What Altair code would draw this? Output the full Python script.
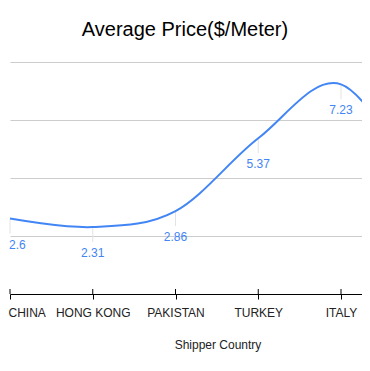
import altair as alt
import pandas as pd

# Data (the last category is cut off at the right edge of the reference)
countries = ["CHINA", "HONG KONG", "PAKISTAN", "TURKEY", "ITALY", "…"]
prices = [2.6, 2.31, 2.86, 5.37, 7.23, 3.5]
price_labels = ["2.6", "2.31", "2.86", "5.37", "7.23", "3.5"]
y_ticks = [0, 2, 4, 6, 8]

df = pd.DataFrame({"country": countries, "price": prices, "label": price_labels})

FONT = "Arial, Liberation Sans"
BLUE = "#4285F4"

x_enc = alt.X(
    "country:N",
    sort=countries,
    scale=alt.Scale(type="point", domain=countries, range=[2, 2 + 5 * 82.75], padding=0),
    axis=alt.Axis(
        values=countries[:5],
        title="Shipper Country",
        labelFont=FONT,
        labelFontSize=12,
        labelColor="#222222",
        labelAngle=0,
        labelPadding=8,
        labelFlush=True,
        labelFlushOffset=2,
        tickColor="#000000",
        tickSize=5,
        domainColor="#000000",
        grid=False,
        titleFont=FONT,
        titleFontSize=12,
        titleFontWeight="normal",
        titleColor="#222222",
        titleX=209.5,
        titleY=50,
        titleBaseline="middle",
        titleAlign="center",
    ),
)
y_enc = alt.Y(
    "price:Q",
    scale=alt.Scale(domain=[0, 8], nice=False),
    axis=alt.Axis(values=y_ticks, labels=False, ticks=False, domain=False,
                  grid=True, gridColor="#cccccc", title=None),
)

base = alt.Chart(df)
visible = base.transform_filter(alt.datum.country != countries[-1])

stems = visible.mark_rule(color="#e3e3e3", strokeWidth=1, yOffset=1, y2Offset=15, clip=True).encode(
    x=x_enc, y=y_enc, y2="price:Q"
)
line = base.mark_line(interpolate="cardinal", color=BLUE, strokeWidth=2, clip=True).encode(
    x=x_enc, y=y_enc
)
first_text = base.transform_filter(alt.datum.country == countries[0]).mark_text(
    dy=26, dx=-1, align="left", color=BLUE, fontSize=12, font=FONT, baseline="middle"
).encode(x=x_enc, y=y_enc, text="label:N")
text = visible.transform_filter(alt.datum.country != countries[0]).mark_text(
    dy=26, color=BLUE, fontSize=12, font=FONT, baseline="middle", clip=True
).encode(x=x_enc, y=y_enc, text="label:N")
upper_ticks = visible.mark_rule(
    color="#000000", strokeWidth=1, y2Offset=-5
).encode(x=x_enc, y=alt.datum(0), y2=alt.datum(0))

chart = alt.layer(stems, line, first_text, text, upper_ticks).properties(
    width=354,
    height=232,
    autosize=alt.AutoSizeParams(type="none"),
    padding={"left": 0, "top": 54, "right": 0, "bottom": 62},
    title=alt.TitleParams(
        "Average Price($/Meter)",
        font=FONT,
        fontSize=20,
        fontWeight="normal",
        color="#000000",
        anchor="middle",
        dx=0,
        offset=22,
    ),
    background="white",
).configure_view(stroke=None)

chart.save("out.html", embed_options={"renderer": "svg", "actions": False})
